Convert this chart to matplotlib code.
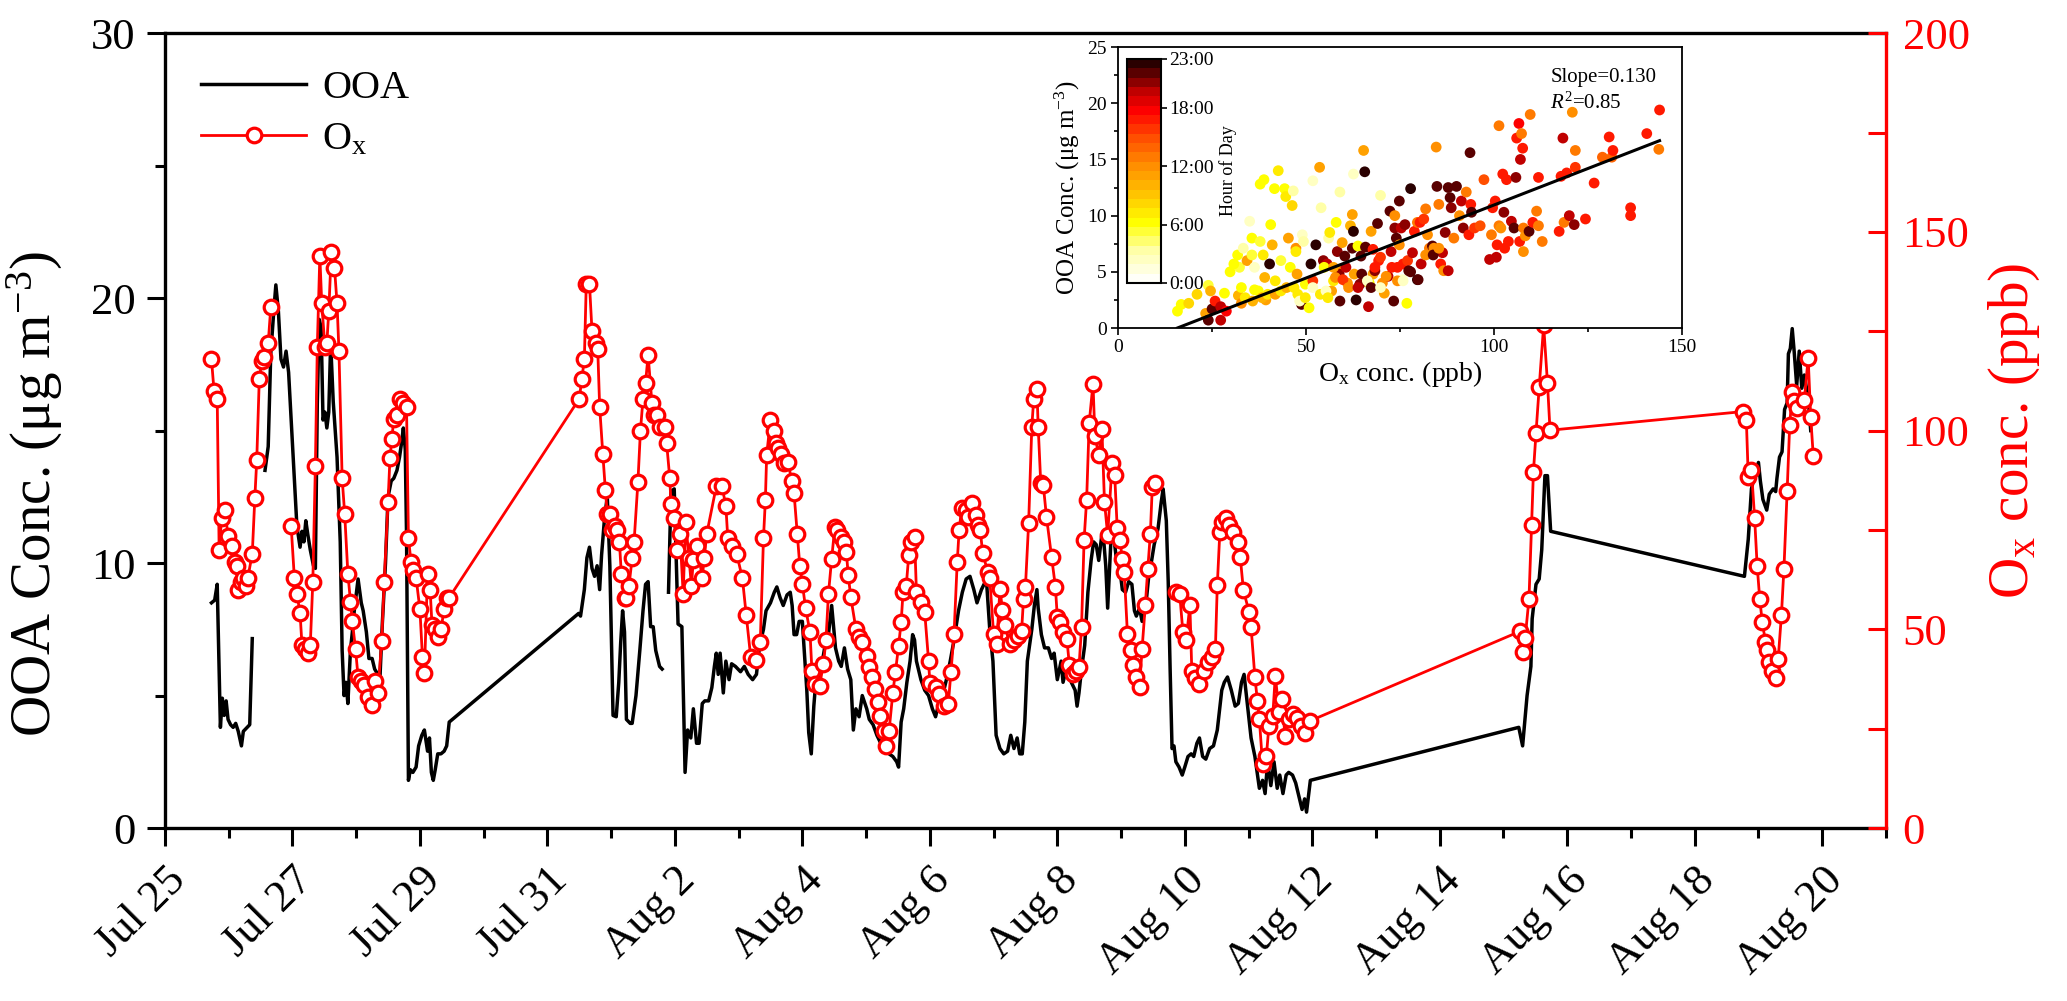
import numpy as np
import matplotlib
matplotlib.use("Agg")
import matplotlib.pyplot as plt
from matplotlib.ticker import MultipleLocator, FixedLocator
from matplotlib.colors import LinearSegmentedColormap

plt.rcParams['font.family'] = ['Liberation Serif', 'DejaVu Serif']
plt.rcParams['mathtext.fontset'] = 'custom'
plt.rcParams['mathtext.rm'] = 'Liberation Serif'
plt.rcParams['mathtext.it'] = 'Liberation Serif:italic'

# time in days since Jul 25 00:00, None = gap in record
ooa_pairs = [
    (0.73, 8.5), (0.78, 8.6), (0.82, 9.2), (0.87, 3.8), (0.90, 4.9), (0.93, 4.25), (0.96, 4.8), (0.99, 4.1),
    (1.03, 3.9), (1.07, 3.8), (1.11, 3.95), (1.15, 3.65), (1.20, 3.1), (1.23, 3.65), (1.29, 3.8), (1.33, 3.9),
    (1.37, 7.15), (1.45, None),
    (1.57, 13.5), (1.62, 14.4), (1.66, 17.9), (1.71, 19.6), (1.74, 20.5), (1.78, 19.5), (1.82, 17.7), (1.86, 17.4),
    (1.90, 18.0), (1.94, 17.2), (1.98, 15.4), (2.03, 13.2), (2.07, 11.4), (2.12, 10.6), (2.15, 11.2), (2.18, 10.8),
    (2.21, 11.6), (2.24, 11.1), (2.28, 10.5), (2.33, 9.9), (2.36, 9.8), (2.39, 16.0), (2.42, 19.2), (2.45, 18.9),
    (2.48, 15.4), (2.51, 15.7), (2.54, 15.1), (2.57, 15.7), (2.60, 18.3), (2.64, 16.1), (2.70, 14.0), (2.75, 10.8),
    (2.78, 6.7), (2.81, 5.0), (2.84, 5.5), (2.87, 4.7), (2.91, 6.7), (2.94, 7.4), (2.97, 8.2), (3.03, 9.4),
    (3.08, 8.5), (3.11, 8.2), (3.16, 7.4), (3.20, 6.4), (3.25, 6.4), (3.29, 6.0), (3.34, 5.8), (3.37, 5.5),
    (3.41, 7.7), (3.46, 10.0), (3.50, 12.5), (3.55, 13.1), (3.59, 13.2), (3.64, 13.5), (3.68, 14.0), (3.71, 14.5),
    (3.74, 15.1), (3.77, 14.3), (3.79, 11.1), (3.82, 1.8), (3.85, 2.2), (3.89, 2.1), (3.94, 2.3), (3.98, 3.1),
    (4.03, 3.5), (4.07, 3.7), (4.12, 2.9), (4.15, 3.4), (4.18, 2.1), (4.21, 1.8), (4.24, 2.2), (4.28, 2.8),
    (4.33, 2.8), (4.38, 2.9), (4.42, 3.1), (4.46, 4.0),
    (6.49, 8.1), (6.52, 8.0), (6.58, 9.0), (6.62, 10.2), (6.66, 10.6), (6.70, 9.8), (6.74, 9.5), (6.78, 9.9),
    (6.82, 9.0), (6.85, 10.3), (6.90, 11.8), (6.94, 12.5), (6.98, 9.9), (7.03, 4.25), (7.08, 4.2), (7.12, 5.5),
    (7.15, 7.0), (7.18, 8.2), (7.21, 7.4), (7.24, 4.1), (7.30, 3.95), (7.33, 3.95), (7.39, 5.0), (7.45, 6.7),
    (7.50, 8.2), (7.54, 9.2), (7.58, 9.3), (7.62, 7.6), (7.66, 7.6), (7.70, 6.7), (7.76, 6.1), (7.80, 6.0),
    (7.85, None),
    (7.90, 8.9), (7.94, 12.7), (7.99, 12.8), (8.05, 7.7), (8.11, 7.6), (8.16, 2.1), (8.20, 3.7), (8.25, 3.4),
    (8.29, 4.5), (8.34, 3.2), (8.38, 3.2), (8.43, 4.7), (8.47, 4.8), (8.53, 4.8), (8.58, 5.3), (8.62, 6.1),
    (8.65, 6.6), (8.68, 5.8), (8.71, 6.6), (8.76, 5.1), (8.80, 6.3), (8.85, 5.6), (8.89, 6.2), (8.95, 6.1),
    (9.03, 5.9), (9.09, 6.1), (9.15, 5.8), (9.22, 5.6), (9.28, 5.8), (9.33, 6.9), (9.39, 7.5), (9.43, 8.2),
    (9.50, 8.5), (9.56, 8.9), (9.60, 9.1), (9.65, 8.7), (9.70, 8.4), (9.76, 8.8), (9.81, 8.9), (9.84, 8.4),
    (9.87, 7.3), (9.91, 7.3), (9.95, 7.8), (10.00, 7.8), (10.04, 6.3), (10.07, 5.2), (10.10, 3.6), (10.14, 2.8),
    (10.18, 4.6), (10.21, 5.5), (10.26, 5.6), (10.30, 6.1), (10.35, 6.8), (10.40, 7.1), (10.46, 8.4), (10.52, 6.8),
    (10.57, 6.3), (10.61, 6.1), (10.66, 6.8), (10.71, 6.0), (10.76, 5.6), (10.80, 3.7), (10.84, 4.5), (10.89, 4.2),
    (10.94, 5.0), (11.01, 4.5), (11.05, 4.1), (11.11, 3.9), (11.17, 3.5), (11.23, 3.2), (11.30, 2.9), (11.36, 2.8),
    (11.42, 2.7), (11.48, 2.5), (11.51, 2.3), (11.55, 4.0), (11.59, 4.5), (11.64, 5.5), (11.69, 6.3), (11.73, 7.3),
    (11.76, 7.1), (11.79, 6.3), (11.86, 5.6), (11.92, 5.2), (11.98, 5.0), (12.04, 4.5), (12.09, 4.2), (12.14, 4.7),
    (12.20, 5.0), (12.26, 5.6), (12.32, 6.3), (12.38, 7.1), (12.45, 8.2), (12.51, 8.9), (12.57, 9.4), (12.63, 9.5),
    (12.69, 9.0), (12.74, 8.5), (12.81, 9.0), (12.85, 9.2), (12.89, 9.3), (12.94, 7.5), (12.99, 6.3), (13.04, 3.5),
    (13.10, 3.0), (13.16, 2.8), (13.22, 2.9), (13.27, 3.5), (13.32, 3.0), (13.37, 3.4), (13.41, 2.8), (13.45, 2.8),
    (13.49, 4.0), (13.53, 6.3), (13.60, 7.5), (13.64, 8.4), (13.68, 9.0), (13.70, 8.3), (13.75, 7.3), (13.80, 6.8),
    (13.86, 6.8), (13.91, 6.4), (13.95, 6.6), (14.00, 5.6), (14.06, 6.3), (14.09, 5.5), (14.15, 6.1), (14.22, 5.5),
    (14.28, 5.2), (14.31, 4.6), (14.34, 5.1), (14.38, 6.0), (14.43, 6.9), (14.48, 8.9), (14.53, 10.1), (14.57, 10.8),
    (14.61, 10.7), (14.65, 10.1), (14.70, 11.1), (14.73, 10.8), (14.76, 9.9), (14.79, 8.3), (14.84, 10.8), (14.88, 11.1),
    (14.93, 10.1), (14.98, 9.8), (15.02, 9.0), (15.07, 8.9), (15.12, 9.3), (15.17, 9.2), (15.21, 8.2), (15.24, 8.0),
    (15.29, 8.3), (15.33, 7.8), (15.38, 8.2), (15.43, 9.4), (15.48, 10.1), (15.52, 10.7), (15.58, 11.3), (15.63, 12.3),
    (15.66, 12.8), (15.71, 11.6), (15.74, 9.3), (15.77, 6.0), (15.80, 3.0), (15.83, 3.1), (15.86, 2.5), (15.91, 2.3),
    (15.96, 2.0), (16.00, 2.3), (16.05, 2.7), (16.10, 2.8), (16.14, 2.7), (16.19, 3.2), (16.23, 3.4), (16.28, 2.7),
    (16.33, 2.6), (16.39, 3.0), (16.45, 3.1), (16.51, 3.7), (16.58, 5.2), (16.62, 5.5), (16.67, 5.7), (16.73, 5.2),
    (16.79, 4.6), (16.84, 4.7), (16.89, 5.5), (16.93, 5.8), (16.98, 4.7), (17.04, 3.4), (17.10, 2.7), (17.17, 1.5),
    (17.22, 1.8), (17.26, 1.3), (17.30, 2.5), (17.35, 1.6), (17.40, 2.5), (17.45, 1.5), (17.49, 2.0), (17.54, 1.3),
    (17.59, 2.0), (17.63, 2.1), (17.69, 2.0), (17.74, 1.7), (17.79, 1.2), (17.84, 0.7), (17.88, 1.1), (17.91, 0.6),
    (17.97, 1.8),
    (21.24, 3.8), (21.30, 3.1), (21.37, 5.0), (21.43, 6.1), (21.45, 7.9), (21.51, 9.2), (21.56, 9.4), (21.60, 10.5),
    (21.65, 13.3), (21.69, 13.3), (21.74, 11.2),
    (24.78, 9.5), (24.84, 10.9), (24.89, 12.8), (24.94, 13.3), (25.00, 13.8), (25.03, 13.1), (25.07, 12.4), (25.13, 12.0),
    (25.17, 12.6), (25.23, 12.8), (25.27, 12.7), (25.29, 13.2), (25.33, 14.0), (25.37, 14.2), (25.41, 15.8), (25.45, 16.05),
    (25.47, 17.9), (25.50, 18.1), (25.53, 18.85), (25.56, 18.0), (25.60, 16.7), (25.64, 18.0), (25.68, 16.6), (25.72, 17.1),
    (25.78, 16.2), (25.82, 15.0),
]

ox_pairs = [
    (0.73, 118), (0.77, 110), (0.82, 108), (0.85, 70), (0.89, 78), (0.94, 80), (0.99, 73.5), (1.05, 71),
    (1.10, 67), (1.13, 66), (1.15, 60), (1.19, 62), (1.23, 63), (1.27, 61), (1.30, 63), (1.37, 69),
    (1.41, 83), (1.44, 92.5), (1.48, 113), (1.52, 117.5), (1.56, 118.6), (1.62, 122), (1.66, 131),
    (1.80, None),
    (1.98, 76), (2.03, 63), (2.07, 59), (2.12, 54), (2.15, 46), (2.19, 45), (2.24, 44), (2.28, 46),
    (2.32, 62), (2.36, 91), (2.39, 121), (2.43, 144), (2.46, 132), (2.51, 121), (2.54, 122), (2.57, 130),
    (2.61, 145), (2.66, 141), (2.70, 132), (2.73, 120), (2.78, 88), (2.82, 79), (2.87, 64), (2.91, 57),
    (2.94, 52), (2.99, 45), (3.03, 38), (3.08, 37), (3.12, 36), (3.19, 33), (3.25, 31), (3.29, 37),
    (3.34, 34), (3.40, 47), (3.44, 62), (3.50, 82), (3.53, 93), (3.56, 98), (3.59, 103), (3.64, 104),
    (3.68, 108), (3.73, 107), (3.79, 106), (3.82, 73), (3.86, 67), (3.89, 65), (3.94, 63), (4.00, 55),
    (4.04, 43), (4.07, 39), (4.12, 64), (4.16, 60), (4.19, 51), (4.24, 50), (4.28, 48), (4.33, 50),
    (4.38, 55), (4.42, 58), (4.46, 58),
    (6.50, 108), (6.54, 113), (6.58, 118), (6.61, 137), (6.66, 137), (6.70, 125), (6.76, 122), (6.79, 120.5),
    (6.82, 106), (6.87, 94), (6.91, 85), (6.94, 79), (6.98, 79), (7.02, 75), (7.06, 76), (7.09, 75),
    (7.13, 72), (7.16, 64), (7.21, 58), (7.24, 58), (7.28, 61), (7.33, 68), (7.36, 72), (7.42, 87),
    (7.46, 100), (7.50, 108), (7.54, 112), (7.58, 119), (7.64, 107), (7.68, 104), (7.72, 104), (7.76, 101),
    (7.84, 101), (7.87, 97), (7.92, 88), (7.94, 81.5), (7.99, 78), (8.04, 70), (8.08, 74), (8.13, 59),
    (8.17, 77), (8.22, 68), (8.26, 61), (8.29, 67.5), (8.35, 71), (8.43, 63), (8.46, 68), (8.50, 74),
    (8.65, 86), (8.74, 86), (8.80, 81), (8.83, 73), (8.89, 71), (8.97, 69),
    (9.06, 62.8), (9.12, 53.5), (9.19, 43), (9.28, 42.3), (9.34, 46.8), (9.39, 72.9), (9.42, 82.6), (9.44, 93.8),
    (9.50, 102.8), (9.56, 99.8), (9.59, 96.9), (9.62, 95.6), (9.66, 94), (9.71, 91.8), (9.78, 92.2), (9.83, 87.2),
    (9.87, 84.2), (9.92, 74.1), (9.96, 66), (10.00, 61.5), (10.05, 55.4), (10.12, 49.3), (10.15, 39.6), (10.20, 36.2),
    (10.27, 35.8), (10.33, 41.3), (10.37, 47.2), (10.41, 59), (10.46, 67.8), (10.51, 75.8), (10.55, 75), (10.60, 73.3),
    (10.65, 72), (10.69, 69.5), (10.72, 63.6), (10.76, 58.1), (10.84, 50.1), (10.89, 48), (10.94, 46.8), (11.01, 43.4),
    (11.05, 40.4), (11.09, 37.9), (11.14, 35), (11.19, 31.6), (11.22, 28.2), (11.28, 24.4), (11.32, 20.6), (11.36, 24.4),
    (11.42, 34.1), (11.46, 39.2), (11.51, 45.9), (11.55, 51.8), (11.58, 59.4), (11.63, 61), (11.67, 68.7), (11.71, 72),
    (11.76, 73.3), (11.79, 59.4), (11.86, 56.9), (11.92, 54.3), (11.98, 42.1), (12.00, 36.6), (12.09, 35.4), (12.14, 33.7),
    (12.23, 30.7), (12.29, 31.2), (12.33, 39.2), (12.38, 48.9), (12.43, 67), (12.46, 75), (12.50, 80.5), (12.56, 80),
    (12.60, 78.3), (12.66, 81.7), (12.73, 78.8), (12.76, 76.2), (12.79, 75), (12.83, 69.1), (12.91, 64.4), (12.94, 62.8),
    (13.00, 48.9), (13.05, 46.3), (13.10, 60.2), (13.14, 54.8), (13.18, 51), (13.25, 46.3), (13.32, 47.2), (13.38, 48.4),
    (13.44, 49.7), (13.47, 57.7), (13.50, 60.7), (13.55, 76.7), (13.60, 101), (13.63, 108), (13.68, 110.4), (13.70, 101),
    (13.74, 86.8), (13.78, 86.3), (13.83, 78.3), (13.91, 68.2), (13.97, 60.7), (14.00, 53.1), (14.05, 51.8), (14.09, 49.3),
    (14.15, 47.6), (14.19, 40.9), (14.24, 38.8), (14.30, 39.5), (14.34, 40.4), (14.38, 50.5), (14.42, 72.5), (14.46, 82.6),
    (14.50, 101.9), (14.56, 111.8), (14.59, 98.6), (14.65, 93.9), (14.70, 100.3), (14.74, 82.1), (14.79, 73.7), (14.86, 91.8),
    (14.90, 88.9), (14.94, 75.4), (14.98, 72.5), (15.02, 67.8), (15.05, 64.4), (15.10, 48.9), (15.15, 44.7), (15.19, 40.9),
    (15.24, 37.9), (15.29, 35.4), (15.33, 45.1), (15.38, 56), (15.42, 65.3), (15.46, 74.1), (15.49, 85.9), (15.54, 86.8),
    (15.70, None),
    (15.86, 59.4), (15.92, 59), (15.97, 49.3), (16.02, 47.2), (16.08, 56), (16.11, 39.6), (16.16, 37.7), (16.22, 36.2),
    (16.30, 39.6), (16.36, 41.7), (16.42, 43), (16.48, 45.1), (16.51, 61.1), (16.55, 74.6), (16.58, 77.1), (16.64, 77.9),
    (16.70, 76.2), (16.76, 74.6), (16.83, 72), (16.87, 68.2), (16.92, 59.8), (17.01, 54.3), (17.04, 50.5), (17.10, 37.9),
    (17.14, 32), (17.17, 27.4), (17.22, 16), (17.28, 18.1), (17.32, 25.7), (17.38, 28.2), (17.42, 38.3), (17.48, 29.1),
    (17.53, 32.4), (17.57, 23.2), (17.63, 27.4), (17.69, 28.6), (17.76, 27.8), (17.82, 25.7), (17.88, 24), (17.97, 27),
    (21.26, 49.5), (21.30, 44.3), (21.34, 47.8), (21.40, 57.7), (21.44, 76.3), (21.47, 89.7), (21.51, 99.4), (21.56, 110.9),
    (21.63, 126.5), (21.69, 112), (21.73, 100.1),
    (24.76, 104.8), (24.81, 102.7), (24.84, 88.4), (24.89, 90.1), (24.94, 78), (24.98, 65.9), (25.02, 57.7), (25.06, 51.8),
    (25.11, 46.9), (25.14, 44.7), (25.17, 41.7), (25.22, 39.5), (25.27, 37.8), (25.31, 42.6), (25.36, 53.5), (25.40, 65.3),
    (25.45, 84.7), (25.49, 101.4), (25.53, 109.6), (25.56, 107.4), (25.61, 105.7), (25.72, 107.7), (25.78, 118.3), (25.82, 103.4),
    (25.86, 93.6),
]

# inset: (Ox ppb, OOA ug/m3, hour of day)
scatter_pts = [
    (15.8, 1.5, 6), (16.8, 2.1, 6), (18.8, 2.2, 8), (21, 3.0, 8), (24, 3.8, 5), (24.6, 3.3, 10), (23.3, 1.3, 11),
    (24, 0.7, 22), (25, 1.7, 22), (25.8, 2.4, 17), (27.3, 1.9, 20), (27.3, 0.7, 20), (28.8, 1.5, 18), (28.3, 3.1, 6),
    (29.8, 5.0, 6), (32.3, 5.4, 5), (31.8, 6.5, 6), (32, 2.9, 10), (32.8, 2.2, 12), (33.3, 7.1, 3), (34.3, 6.0, 11),
    (35, 9.5, 2), (35.6, 8.0, 6), (35.6, 6.5, 5), (36.3, 5.4, 2), (36.3, 3.4, 6), (37.8, 12.8, 6), (38.8, 13.2, 6),
    (37.8, 7.7, 5), (38.6, 6.5, 7), (39, 4.5, 10), (39.3, 2.5, 11), (40.3, 5.7, 23), (41, 7.4, 10), (40.6, 9.2, 6),
    (41.8, 4.2, 7), (42.6, 14.0, 7), (41.6, 12.4, 6), (43.3, 6.0, 5), (44.3, 12.4, 6), (44.6, 11.7, 7), (45.3, 8.0, 11),
    (45.8, 5.4, 6), (46.3, 10.9, 8), (46.6, 12.2, 3), (47.3, 7.1, 12), (47.3, 6.8, 7), (47.6, 4.8, 11), (47.8, 3.0, 7),
    (48.8, 2.1, 22), (49, 8.3, 2), (49.3, 7.7, 3), (50.8, 1.8, 6), (49.8, 3.9, 6), (51.3, 5.7, 23), (51.8, 4.2, 16),
    (51.8, 13.1, 2), (52.6, 7.4, 23), (53.6, 14.3, 11), (54, 10.7, 3), (54.6, 6.0, 21), (55.3, 3.0, 2), (55.6, 5.7, 20),
    (56, 8.0, 3), (56.3, 8.5, 7), (56.8, 3.3, 11), (57.3, 4.2, 7), (58, 9.4, 6), (58.3, 6.8, 21), (58.6, 5.1, 12),
    (58.8, 4.8, 21), (59, 12.1, 3), (59, 2.4, 22), (59.6, 7.6, 11), (60.3, 6.4, 22), (60.6, 5.4, 20), (61, 4.0, 12),
    (61.8, 9.1, 10), (62.3, 10.1, 11), (62.3, 7.1, 22), (62.6, 8.6, 23), (62.6, 13.7, 2), (63.3, 2.5, 23), (63.8, 7.3, 6),
    (64.3, 3.9, 21), (64.6, 6.4, 22), (65.3, 15.8, 11), (65.6, 13.9, 23), (65.8, 7.2, 22), (66.6, 1.9, 20), (66.8, 4.0, 6),
    (67.3, 8.6, 11), (67.8, 7.0, 17), (67.8, 4.8, 11), (68.3, 5.1, 21), (69, 9.3, 22), (69.3, 6.0, 17), (69.8, 11.8, 3),
    (69.8, 6.3, 16), (70.3, 4.0, 12), (70.8, 3.1, 11), (71.8, 4.6, 20), (72.3, 10.4, 22), (72.6, 6.8, 20), (73.3, 2.4, 22),
    (73.6, 10.0, 12), (73.6, 8.9, 21), (74, 8.0, 22), (74.3, 5.4, 17), (74.8, 11.3, 22), (74.8, 7.4, 12), (75.3, 8.9, 20),
    (75.6, 4.3, 2), (75.8, 5.7, 17), (76.3, 9.2, 21), (76.8, 2.2, 6), (77, 6.0, 16), (77.8, 5.0, 22), (77.8, 12.4, 23),
    (78.3, 6.7, 20), (78.8, 8.6, 17), (79.6, 4.3, 23), (79.6, 9.4, 13), (80.3, 9.4, 17), (80.6, 5.7, 20), (81.3, 9.7, 16),
    (81.8, 10.6, 13), (82.3, 8.3, 12), (82.8, 7.1, 13), (83.6, 7.3, 22), (84, 7.1, 12), (84.6, 16.1, 12), (84.8, 12.6, 22),
    (85.3, 11.0, 13), (85.8, 5.7, 17), (86.3, 6.7, 20), (86.6, 5.1, 12), (87, 8.5, 21), (87.8, 12.5, 22), (87.8, 5.1, 20),
    (88.3, 11.6, 22), (88.6, 10.7, 21), (89.3, 8.0, 13), (90, 12.6, 22), (90.8, 10.0, 12), (91.3, 11.3, 20), (91.8, 8.9, 21),
    (92.6, 12.1, 13), (93.3, 8.3, 17), (93.6, 15.6, 22), (93.8, 11.0, 17), (94, 10.3, 22), (94.8, 8.9, 16), (96.3, 9.1, 15),
    (97.3, 13.2, 15), (98.8, 6.1, 20), (99.3, 8.3, 13), (99.6, 10.7, 17), (100.3, 11.3, 17), (100.6, 6.3, 20), (100.8, 7.4, 17),
    (101.3, 18.0, 13), (101.3, 9.1, 13), (101.8, 8.9, 12), (102.3, 13.7, 17), (102.6, 10.3, 21), (102.8, 7.1, 17), (103.3, 13.2, 17),
    (103.8, 7.7, 17), (104.6, 9.5, 20), (105.3, 8.9, 22), (105.8, 13.4, 21), (106, 16.9, 17), (106.6, 18.2, 18), (106.8, 7.7, 17),
    (107, 15.0, 20), (107.3, 17.3, 13), (107.6, 16.0, 17), (107.8, 8.9, 13), (107.8, 6.8, 12), (108.3, 8.2, 12), (109.3, 8.6, 22),
    (109.6, 19.0, 13), (110.3, 9.4, 17), (111.3, 10.4, 13), (111.8, 13.4, 17), (111.8, 9.1, 13), (112.8, 7.7, 13), (117.3, 8.6, 17),
    (117.8, 13.5, 17), (118.3, 16.9, 20), (118.6, 9.4, 13), (119.3, 13.8, 17), (120, 10.0, 20), (120.8, 19.2, 12), (121.3, 9.2, 21),
    (121.6, 14.3, 16), (121.6, 15.8, 13), (124.3, 9.7, 17), (126.6, 12.9, 17), (128.8, 15.2, 14), (130.6, 17.0, 17), (131.3, 15.2, 14),
    (131.6, 15.8, 17), (136.3, 10.7, 17), (136.3, 10.0, 17), (140.6, 17.3, 17), (143.8, 15.9, 13), (144, 19.4, 17),
    (30.8, 5.7, 6), (32.8, 3.6, 6), (33.8, 2.7, 7), (35.8, 2.4, 10), (37.3, 3.3, 6), (38.3, 2.7, 10), (39.8, 3.0, 7),
    (41.8, 3.0, 11), (43.3, 3.3, 7), (44.8, 3.6, 10), (46.8, 3.6, 7), (48.3, 2.4, 2), (49.8, 2.7, 7), (51.8, 3.6, 2),
    (53.8, 3.0, 7), (54.8, 5.4, 6), (55.3, 3.3, 2), (55.8, 2.7, 7), (57.3, 5.4, 11), (57.8, 4.5, 12), (59.8, 4.3, 16),
    (61.3, 3.6, 12), (62.8, 4.8, 11), (63.8, 3.6, 20), (64.8, 4.8, 22), (66.3, 4.2, 2), (67.3, 3.6, 22), (68.3, 5.4, 17),
    (69.8, 3.6, 2), (71.3, 4.6, 12), (72.8, 5.4, 17), (74.3, 4.2, 12), (75.8, 4.2, 2), (77.3, 5.1, 22), (79.8, 4.3, 22),
    (81.8, 6.5, 12), (83.8, 6.5, 22), (85.3, 7.1, 12),
]

fit_slope = 0.130
fit_intercept = -2.05
fit_r2 = 0.85
fit_range = [15.8, 144.0]

tick_labels = ['Jul 25', 'Jul 27', 'Jul 29', 'Jul 31', 'Aug 2', 'Aug 4', 'Aug 6',
               'Aug 8', 'Aug 10', 'Aug 12', 'Aug 14', 'Aug 16', 'Aug 18', 'Aug 20']
hour_ticks = [0, 6, 12, 18, 23]
hour_labels = ['0:00', '6:00', '12:00', '18:00', '23:00']


def unpack(pairs):
    t = np.array([p[0] for p in pairs], dtype=float)
    v = np.array([np.nan if p[1] is None else p[1] for p in pairs], dtype=float)
    return t, v


ooa_t, ooa_v = unpack(ooa_pairs)
ox_t, ox_v = unpack(ox_pairs)
sc_ox = np.array([p[0] for p in scatter_pts])
sc_ooa = np.array([p[1] for p in scatter_pts])
sc_hr = np.array([p[2] for p in scatter_pts])

fig = plt.figure(figsize=(20.67, 10.01), dpi=100)
ax = fig.add_axes([0.0798, 0.1728, 0.8326, 0.794])

l1, = ax.plot(ooa_t, ooa_v, color='black', lw=2.5, label='OOA')
ax.set_xlim(0, 27)
ax.set_ylim(0, 30)
ax.xaxis.set_major_locator(FixedLocator(np.arange(0, 27, 2)))
ax.xaxis.set_minor_locator(MultipleLocator(1))
ax.set_xticklabels(tick_labels, rotation=45, ha='right', va='top', rotation_mode='anchor')
ax.yaxis.set_major_locator(MultipleLocator(10))
ax.yaxis.set_minor_locator(MultipleLocator(5))
ax.tick_params(axis='both', which='major', direction='out', length=13, width=2.2, labelsize=32)
ax.tick_params(axis='both', which='minor', direction='out', length=7, width=2.2)
ax.tick_params(axis='x', which='major', labelsize=32, pad=10)
ax.tick_params(axis='y', which='major', pad=8)
ax.set_ylabel('OOA Conc. (μg m$^{-3}$)', fontsize=41, labelpad=12)
ax.yaxis.set_label_coords(-0.058, 0.42)
for s in ['left', 'bottom', 'top']:
    ax.spines[s].set_linewidth(2.4)
ax.spines['right'].set_visible(False)

ax2 = ax.twinx()
l2, = ax2.plot(ox_t, ox_v, color='red', lw=2, marker='o', ms=10.5, mfc='white',
               mec='red', mew=2.3, label='O$_\\mathrm{x}$')
ax2.set_ylim(0, 200)
ax2.yaxis.set_major_locator(MultipleLocator(50))
ax2.yaxis.set_minor_locator(MultipleLocator(25))
ax2.tick_params(axis='y', which='major', direction='in', length=13, width=2.2, colors='red',
                labelsize=32, pad=12)
ax2.tick_params(axis='y', which='minor', direction='in', length=13, width=2.2, colors='red')
ax2.spines['right'].set_color('red')
ax2.spines['right'].set_linewidth(2.4)
for s in ['left', 'bottom', 'top']:
    ax2.spines[s].set_visible(False)
ax2.set_ylabel('O$_\\mathrm{x}$ conc. (ppb)', fontsize=41, color='red', labelpad=12)

ax2.legend(handles=[l1, l2], loc='upper left', bbox_to_anchor=(0.0, 1.0), frameon=False,
           fontsize=29, handlelength=2.6, handletextpad=0.4, labelspacing=0.35)

# inset scatter
hod_cmap = LinearSegmentedColormap.from_list(
    'hod', [(0.0, '#fffff8'), (0.13, '#ffffa8'), (0.26, '#ffff00'), (0.40, '#ffc000'),
            (0.52, '#ff9000'), (0.65, '#ff5000'), (0.78, '#ff0000'), (0.87, '#c00000'),
            (0.95, '#600000'), (1.0, '#2a0000')], N=24)

axin = fig.add_axes([0.5409, 0.6723, 0.2729, 0.2807])
sc = axin.scatter(sc_ox, sc_ooa, c=sc_hr, cmap=hod_cmap, vmin=0, vmax=23, s=60,
                  edgecolors='none', zorder=2)
fx = np.array(fit_range)
axin.plot(fx, fit_slope * fx + fit_intercept, color='black', lw=2.2, zorder=3)
axin.set_xlim(0, 150)
axin.set_ylim(0, 25)
axin.xaxis.set_major_locator(MultipleLocator(50))
axin.xaxis.set_minor_locator(MultipleLocator(25))
axin.yaxis.set_major_locator(MultipleLocator(5))
axin.yaxis.set_minor_locator(MultipleLocator(2.5))
axin.tick_params(which='major', direction='out', length=5, width=1.2, labelsize=14, pad=3)
axin.tick_params(which='minor', direction='out', length=3, width=1.2)
for s in axin.spines.values():
    s.set_linewidth(1.3)
axin.set_xlabel('O$_\\mathrm{x}$ conc. (ppb)', fontsize=20, labelpad=2)
axin.set_ylabel('OOA Conc. (μg m$^{-3}$)', fontsize=18, labelpad=4)
axin.text(0.766, 0.893, 'Slope=%.3f' % fit_slope, transform=axin.transAxes, fontsize=15,
          va='center', ha='left')
axin.text(0.766, 0.80, '$R^2$=%.2f' % fit_r2, transform=axin.transAxes, fontsize=15,
          va='center', ha='left')

cax = fig.add_axes([0.5452, 0.7173, 0.01645, 0.2238])
cb = fig.colorbar(sc, cax=cax, ticks=hour_ticks)
cb.ax.set_yticklabels(hour_labels)
cb.ax.tick_params(labelsize=14, length=4, width=1.2, pad=2)
cb.outline.set_linewidth(1.5)
cb.set_label('Hour of Day', fontsize=13, labelpad=4)

fig.savefig('out.png', dpi=100)
